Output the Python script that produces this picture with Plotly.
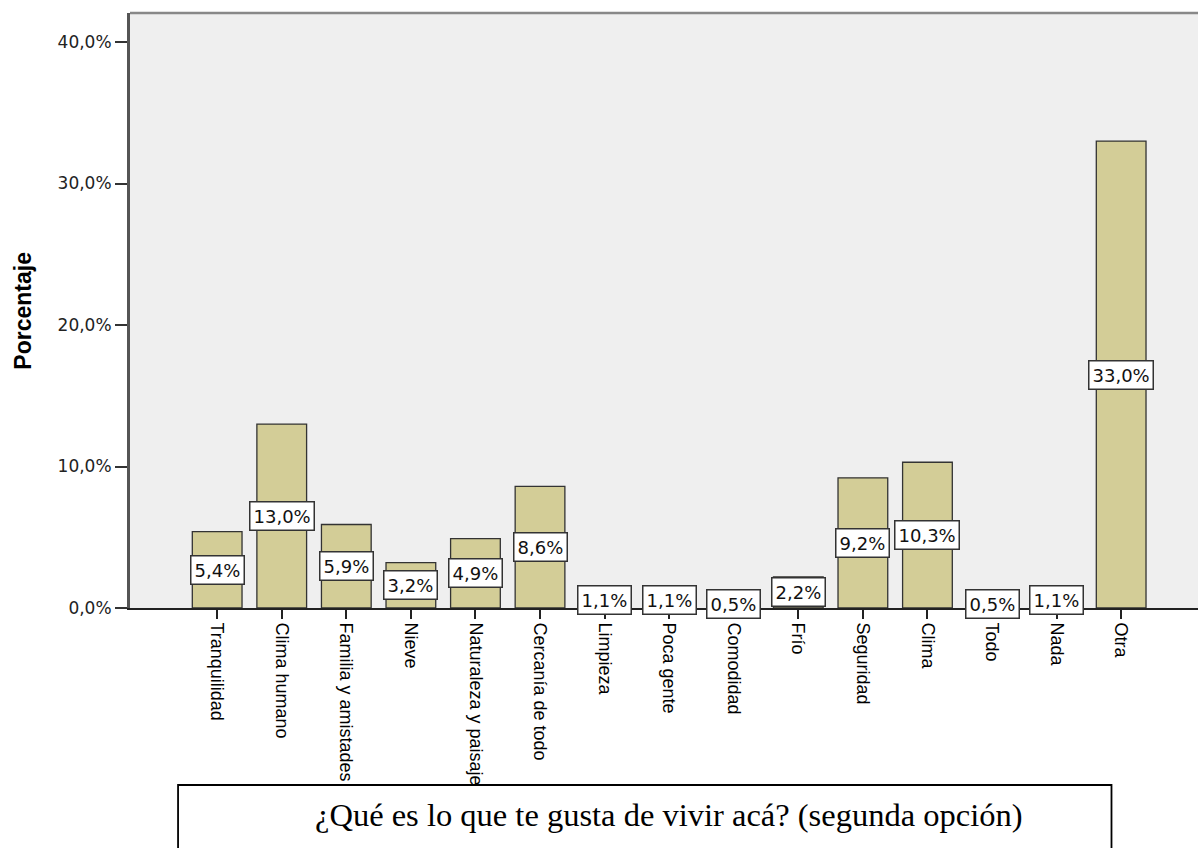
import plotly.graph_objects as go

categories = ["Tranquilidad", "Clima humano", "Familia y amistades", "Nieve",
              "Naturaleza y paisaje", "Cercanía de todo", "Limpieza", "Poca gente",
              "Comodidad", "Frío", "Seguridad", "Clima", "Todo", "Nada", "Otra"]
values = [5.4, 13.0, 5.9, 3.2, 4.9, 8.6, 1.1, 1.1, 0.5, 2.2, 9.2, 10.3, 0.5, 1.1, 33.0]
y_ticks = [0, 10, 20, 30, 40]
y_tick_labels = ["0,0%", "10,0%", "20,0%", "30,0%", "40,0%"]
title_text = "¿Qué es lo que te gusta de vivir acá? (segunda opción)"

fig = go.Figure()
fig.add_trace(go.Bar(
    x=categories, y=values, width=0.77,
    marker=dict(color="#d3cd97", line=dict(color="#333333", width=1.3)),
    hoverinfo="x+y",
))

annotations = []
for c, v in zip(categories, values):
    annotations.append(dict(
        x=c, y=v / 2, xref="x", yref="y",
        text=f"{v:.1f}%".replace(".", ","), showarrow=False,
        xanchor="center", yanchor="middle",
        font=dict(family="DejaVu Sans, Verdana", size=18, color="#111111"),
        bgcolor="white", bordercolor="#333333", borderwidth=1.5, borderpad=3,
    ))

annotations.append(dict(
    x=0.505, y=-0.348, xref="paper", yref="paper", text=title_text,
    xanchor="center", yanchor="middle",
    showarrow=False, font=dict(family="Liberation Serif, Times New Roman", size=32.5, color="black"),
))
annotations.append(dict(
    x=-0.101, y=0.5, xref="paper", yref="paper", text="<b>Porcentaje</b>",
    xanchor="center", yanchor="middle",
    showarrow=False, textangle=-90,
    font=dict(family="Liberation Sans, Arial", size=23, color="black"),
))

fig.update_layout(
    width=1198, height=848,
    margin=dict(l=130, r=0, t=13, b=240),
    paper_bgcolor="white", plot_bgcolor="#efefef",
    showlegend=False,
    annotations=annotations,
    shapes=[
        dict(type="rect", xref="paper", yref="paper", x0=0.045, x1=0.919, y0=-0.45, y1=-0.2975,
             fillcolor="white", line=dict(color="black", width=1.8), layer="above"),
        dict(type="line", xref="paper", yref="paper", x0=0, x1=1, y0=1, y1=1,
             line=dict(color="#888888", width=2.5)),
    ],
    xaxis=dict(
        range=[-1.35, 15.19], tickangle=90, ticks="outside", ticklen=9, tickcolor="#222222",
        tickwidth=1.5,
        tickfont=dict(family="Liberation Sans, Arial", size=18, color="black"),
        showline=True, linecolor="#222222", linewidth=1.8, showgrid=False, zeroline=False,
    ),
    yaxis=dict(
        range=[0, 42.05], tickvals=y_ticks, ticktext=y_tick_labels, ticks="outside",
        ticklen=12, tickcolor="#333333", tickwidth=2,
        tickfont=dict(family="DejaVu Sans, Verdana", size=17, color="#222222"),
        showline=True, linecolor="#555555", linewidth=3, showgrid=False, zeroline=False,
    ),
)

fig.write_html("out.html", config={"displayModeBar": False},
               post_script="document.body.style.margin='0px';")
